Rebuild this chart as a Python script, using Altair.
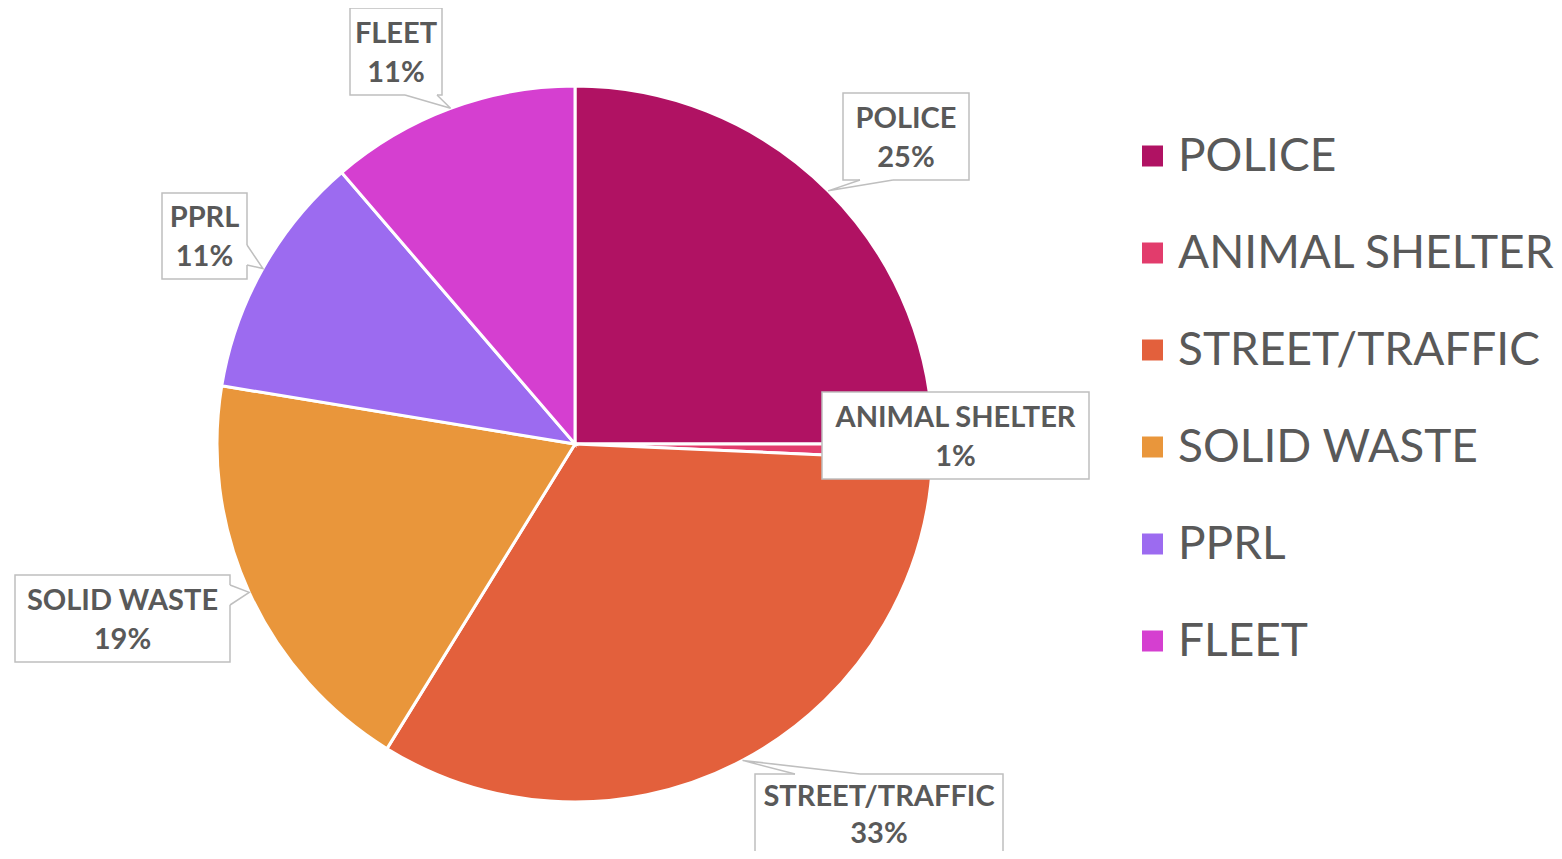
import math
import altair as alt
import pandas as pd

# ---------------- data ----------------
categories = ["POLICE", "ANIMAL SHELTER", "STREET/TRAFFIC", "SOLID WASTE", "PPRL", "FLEET"]
values = [25.0, 0.7, 33.1, 18.8, 11.1, 11.3]
colors = ["#B01263", "#E23C6C", "#E3603C", "#E9963B", "#9C6BF0", "#D53FD0"]

# ---------------- layout (pixels in chart space) ----------------
W, H = 1546, 843
CX, CY, R = 567, 436, 358
TEXT_COLOR = "#595959"
BOX_STROKE = "#BFBFBF"
FONT = "Lato"

# label boxes: (x0, y0, x1, y1)
label_boxes = {
    "POLICE": (835, 85, 961, 172),
    "ANIMAL SHELTER": (814, 384, 1081, 471),
    "STREET/TRAFFIC": (747, 766, 995, 870),
    "SOLID WASTE": (7, 567, 222, 654),
    "PPRL": (154, 185, 239, 271),
    "FLEET": (342, 0, 434, 87),
}
# vertical offsets of the two text lines from the box centre
text_offsets = {"STREET/TRAFFIC": (-21, 16)}
# callout base points on the box edge
callout_bases = {
    "POLICE": ((852, 172), (885, 172)),
    "STREET/TRAFFIC": ((787, 766), (852, 766)),
    "SOLID WASTE": ((222, 577), (222, 597)),
    "PPRL": ((239, 237), (239, 257)),
    "FLEET": ((397, 87), (429, 87)),
}
LEG_X_SYM, LEG_X_TXT, LEG_Y0, LEG_DY = 1144.5, 1170, 148, 97

# ---------------- tables ----------------
total = sum(values)
pie_df = pd.DataFrame({"category": categories, "value": values, "idx": range(len(categories))})

mid_angle = {}
acc = 0.0
for c, v in zip(categories, values):
    mid_angle[c] = (acc + v / 2) / total * 2 * math.pi
    acc += v

box_rows, text_rows, line_rows, erase_rows = [], [], [], []
for c, v in zip(categories, values):
    x0, y0, x1, y1 = label_boxes[c]
    box_rows.append({"category": c, "x0": x0, "y0": y0, "x1": x1, "y1": y1})
    cxb = (x0 + x1) / 2
    cyb = (y0 + y1) / 2 if c != "STREET/TRAFFIC" else (y0 + 87 / 2)
    on, op = text_offsets.get(c, (-18, 21))
    text_rows.append({"category": c, "x": cxb, "yn": cyb + on, "yp": cyb + op,
                      "name": c, "pct": f"{round(v / total * 100)}%"})
    if c in callout_bases:
        a = mid_angle[c]
        tip = (CX + R * math.sin(a), CY - R * math.cos(a))
        b1, b2 = callout_bases[c]
        for k, p in enumerate([b1, tip, b2]):
            line_rows.append({"category": c, "k": k, "x": p[0], "y": p[1]})
        erase_rows.append({"category": c, "x": b1[0], "y": b1[1], "x2": b2[0], "y2": b2[1]})

box_df = pd.DataFrame(box_rows)
text_df = pd.DataFrame(text_rows)
line_df = pd.DataFrame(line_rows)
erase_df = pd.DataFrame(erase_rows)
leg_df = pd.DataFrame({"category": categories,
                       "y": [LEG_Y0 + i * LEG_DY for i in range(len(categories))]})

xs = alt.Scale(domain=[0, W], nice=False, zero=False)
ys = alt.Scale(domain=[0, H], nice=False, zero=False, reverse=True)
cs = alt.Scale(domain=categories, range=colors)

pie = alt.Chart(pie_df).mark_arc(radius=R, stroke="white", strokeWidth=3).encode(
    theta=alt.Theta("value:Q", stack=True),
    color=alt.Color("category:N", scale=cs, legend=None),
    order=alt.Order("idx:Q"),
    x=alt.value(CX), y=alt.value(CY),
)

boxes = alt.Chart(box_df).mark_rect(fill="white", stroke=BOX_STROKE, strokeWidth=1.5).encode(
    x=alt.X("x0:Q", scale=xs, axis=None), x2="x1:Q",
    y=alt.Y("y0:Q", scale=ys, axis=None), y2="y1:Q",
)

erase = alt.Chart(erase_df).mark_rule(stroke="white", strokeWidth=3).encode(
    x=alt.X("x:Q", scale=xs, axis=None), x2="x2:Q",
    y=alt.Y("y:Q", scale=ys, axis=None), y2="y2:Q",
)

pointers = alt.Chart(line_df).mark_line(stroke=BOX_STROKE, strokeWidth=1.5).encode(
    x=alt.X("x:Q", scale=xs, axis=None),
    y=alt.Y("y:Q", scale=ys, axis=None),
    detail="category:N",
    order=alt.Order("k:Q"),
)

name_txt = alt.Chart(text_df).mark_text(font=FONT, fontSize=29, fontWeight="bold",
                                        fill=TEXT_COLOR, align="center", baseline="middle").encode(
    x=alt.X("x:Q", scale=xs, axis=None), y=alt.Y("yn:Q", scale=ys, axis=None), text="name:N")
pct_txt = alt.Chart(text_df).mark_text(font=FONT, fontSize=29, fontWeight="bold",
                                       fill=TEXT_COLOR, align="center", baseline="middle").encode(
    x=alt.X("x:Q", scale=xs, axis=None), y=alt.Y("yp:Q", scale=ys, axis=None), text="pct:N")

leg_sym = alt.Chart(leg_df).mark_point(shape="square", filled=True, size=441, opacity=1,
                                       strokeWidth=0).encode(
    x=alt.value(LEG_X_SYM),
    y=alt.Y("y:Q", scale=ys, axis=None),
    color=alt.Color("category:N", scale=cs, legend=None),
)
leg_txt = alt.Chart(leg_df).mark_text(font=FONT, fontSize=46, fill=TEXT_COLOR,
                                      align="left", baseline="middle", dy=1).encode(
    x=alt.value(LEG_X_TXT),
    y=alt.Y("y:Q", scale=ys, axis=None),
    text="category:N",
)

chart = alt.layer(pie, boxes, erase, pointers, name_txt, pct_txt, leg_sym, leg_txt).properties(
    width=W, height=H,
    autosize=alt.AutoSizeParams(type="none"),
    padding=0,
).configure_view(stroke=None)

chart.save("out.html", embed_options={"renderer": "svg", "actions": False})
